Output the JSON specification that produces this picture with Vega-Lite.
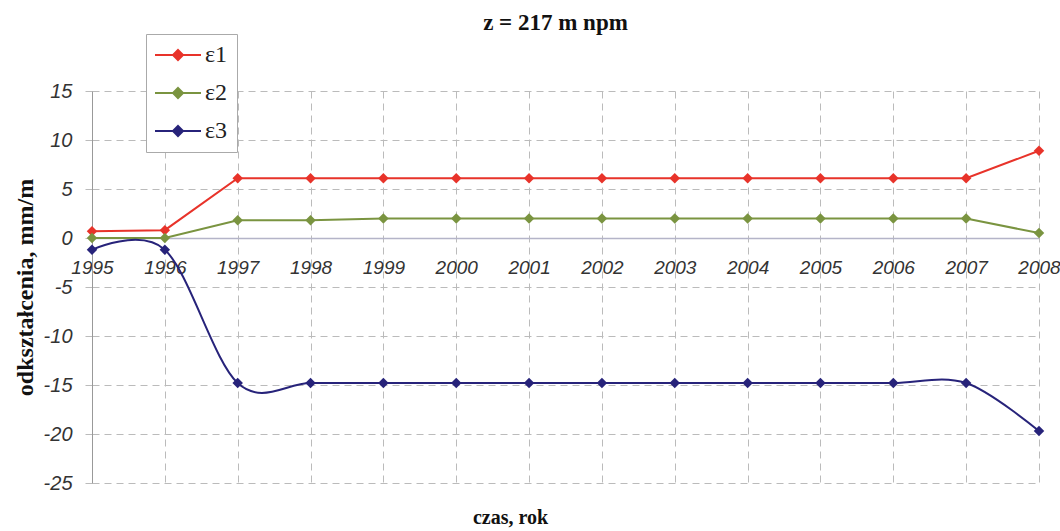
{
  "$schema": "https://vega.github.io/schema/vega-lite/v6.json",
  "width": 947,
  "height": 392,
  "autosize": "none",
  "padding": {"left": 92, "top": 91, "right": 21, "bottom": 48},
  "background": "white",
  "title": {"text": "z = 217 m npm", "font": "Liberation Serif", "fontSize": 23, "fontWeight": "bold", "color": "#111", "anchor": "middle", "frame": "group", "offset": -1, "dx": -10},
  "data": {"values": [
    {"year": 1995, "s": "ε1", "v": 0.7},
    {"year": 1996, "s": "ε1", "v": 0.8},
    {"year": 1997, "s": "ε1", "v": 6.1},
    {"year": 1998, "s": "ε1", "v": 6.1},
    {"year": 1999, "s": "ε1", "v": 6.1},
    {"year": 2000, "s": "ε1", "v": 6.1},
    {"year": 2001, "s": "ε1", "v": 6.1},
    {"year": 2002, "s": "ε1", "v": 6.1},
    {"year": 2003, "s": "ε1", "v": 6.1},
    {"year": 2004, "s": "ε1", "v": 6.1},
    {"year": 2005, "s": "ε1", "v": 6.1},
    {"year": 2006, "s": "ε1", "v": 6.1},
    {"year": 2007, "s": "ε1", "v": 6.1},
    {"year": 2008, "s": "ε1", "v": 8.9},
    {"year": 1995, "s": "ε2", "v": 0.0},
    {"year": 1996, "s": "ε2", "v": 0.0},
    {"year": 1997, "s": "ε2", "v": 1.8},
    {"year": 1998, "s": "ε2", "v": 1.8},
    {"year": 1999, "s": "ε2", "v": 2.0},
    {"year": 2000, "s": "ε2", "v": 2.0},
    {"year": 2001, "s": "ε2", "v": 2.0},
    {"year": 2002, "s": "ε2", "v": 2.0},
    {"year": 2003, "s": "ε2", "v": 2.0},
    {"year": 2004, "s": "ε2", "v": 2.0},
    {"year": 2005, "s": "ε2", "v": 2.0},
    {"year": 2006, "s": "ε2", "v": 2.0},
    {"year": 2007, "s": "ε2", "v": 2.0},
    {"year": 2008, "s": "ε2", "v": 0.5},
    {"year": 1995, "s": "ε3", "v": -1.2},
    {"year": 1996, "s": "ε3", "v": -1.2},
    {"year": 1997, "s": "ε3", "v": -14.8},
    {"year": 1998, "s": "ε3", "v": -14.8},
    {"year": 1999, "s": "ε3", "v": -14.8},
    {"year": 2000, "s": "ε3", "v": -14.8},
    {"year": 2001, "s": "ε3", "v": -14.8},
    {"year": 2002, "s": "ε3", "v": -14.8},
    {"year": 2003, "s": "ε3", "v": -14.8},
    {"year": 2004, "s": "ε3", "v": -14.8},
    {"year": 2005, "s": "ε3", "v": -14.8},
    {"year": 2006, "s": "ε3", "v": -14.8},
    {"year": 2007, "s": "ε3", "v": -14.8},
    {"year": 2008, "s": "ε3", "v": -19.7}
  ]},
  "encoding": {
    "x": {
      "field": "year", "type": "quantitative",
      "scale": {"domain": [1995, 2008], "nice": false, "zero": false},
      "axis": {
        "orient": "bottom", "offset": -245,
        "values": [1995,1996,1997,1998,1999,2000,2001,2002,2003,2004,2005,2006,2007,2008],
        "format": "d", "labelFlush": false, "labelOverlap": false,
        "labelFont": "Liberation Sans", "labelFontStyle": "italic", "labelFontSize": 19, "labelColor": "#333",
        "ticks": false, "labelPadding": 20,
        "domainColor": "#b4b4c8", "domainWidth": 1.5,
        "grid": true, "gridDash": [7, 5], "gridColor": "#bbbbbb", "gridWidth": 1,
        "title": "czas, rok", "titleFont": "Liberation Serif", "titleFontWeight": "bold", "titleFontSize": 20, "titleColor": "#111",
        "titleX": 418, "titleY": 279, "titleBaseline": "middle", "titleAlign": "center"
      }
    },
    "y": {
      "field": "v", "type": "quantitative",
      "scale": {"domain": [-25, 15], "nice": false, "zero": false},
      "axis": {
        "values": [-25,-20,-15,-10,-5,0,5,10,15],
        "labelExpr": "datum.value + ''",
        "labelFont": "Liberation Sans", "labelFontStyle": "italic", "labelFontSize": 20, "labelColor": "#333",
        "tickSize": 7, "tickColor": "#bbbbbb", "labelPadding": 13,
        "domainColor": "#999999",
        "grid": true, "gridDash": [7, 5], "gridColor": "#bbbbbb", "gridWidth": 1,
        "title": "odkształcenia, mm/m", "titleFont": "Liberation Serif", "titleFontWeight": "bold", "titleFontSize": 24, "titleColor": "#111",
        "titlePadding": 6
      }
    },
    "color": {
      "field": "s", "type": "nominal",
      "scale": {"domain": ["ε1", "ε2", "ε3"], "range": ["#e8332a", "#7a9440", "#27237a"]},
      "legend": {
        "orient": "none", "legendX": 54, "legendY": -57, "title": null,
        "strokeColor": "#aaaaaa", "fillColor": "white", "padding": 9,
        "labelFont": "Liberation Serif", "labelFontSize": 24, "labelColor": "#222",
        "symbolType": "M-2.3,0H2.3M0,-0.5L0.5,0L0,0.5L-0.5,0Z",
        "symbolSize": 400, "symbolStrokeWidth": 2, "symbolOffset": 11, "labelOffset": 15,
        "rowPadding": 14,
        "encode": {"symbols": {"update": {"fill": {"scale": "color", "field": "value"}, "stroke": {"scale": "color", "field": "value"}, "opacity": {"value": 1}}}}
      }
    }
  },
  "layer": [
    {"transform": [{"filter": "datum.s !== 'ε3'"}], "mark": {"type": "line", "strokeWidth": 2}},
    {"transform": [{"filter": "datum.s === 'ε3'"}], "mark": {"type": "line", "interpolate": "cardinal", "tension": 0, "strokeWidth": 2}},
    {"mark": {"type": "point", "shape": "diamond", "filled": true, "size": 110, "opacity": 1}}
  ],
  "config": {"view": {"stroke": null}}
}
